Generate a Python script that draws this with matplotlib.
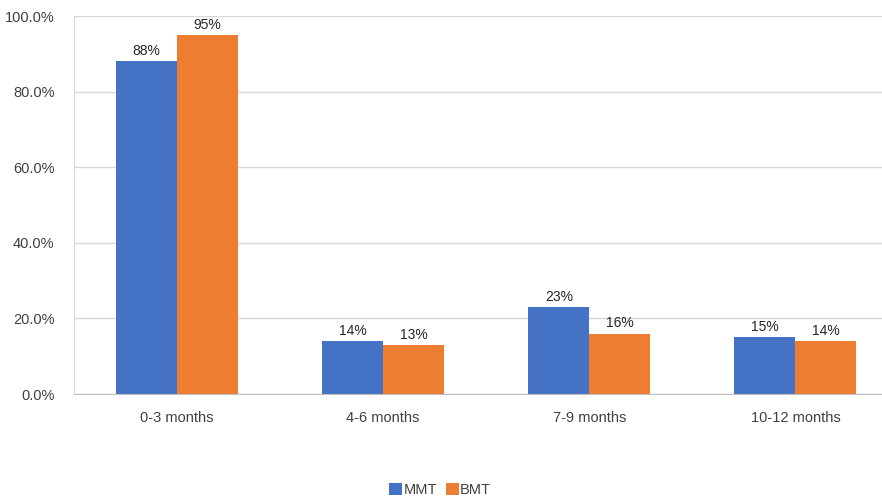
import matplotlib.pyplot as plt
import numpy as np
from matplotlib.ticker import PercentFormatter

categories = ["0-3 months", "4-6 months", "7-9 months", "10-12 months"]
mmt = [88, 14, 23, 15]
bmt = [95, 13, 16, 14]
series_names = ["MMT", "BMT"]

plt.rcParams['font.family'] = ['Liberation Sans', 'DejaVu Sans']

fig = plt.figure(figsize=(8.82, 5), dpi=100)
ax = fig.add_axes([74 / 882, 106 / 500, 1 - 74 / 882, 378 / 500])

x = np.arange(len(categories))
w = 0.296
b1 = ax.bar(x - w / 2, mmt, w, color="#4472C4", label=series_names[0])
b2 = ax.bar(x + w / 2, bmt, w, color="#ED7D31", label=series_names[1])

for bars, vals in ((b1, mmt), (b2, bmt)):
    for r, v in zip(bars, vals):
        ax.text(r.get_x() + r.get_width() / 2, v + 0.8, f"{v}%",
                ha="center", va="bottom", fontsize=10, color="#262626")

ax.set_ylim(0, 100)
ax.set_xlim(-0.5, 3.42)
ax.set_yticks(np.arange(0, 101, 20))
ax.yaxis.set_major_formatter(PercentFormatter(decimals=1))
ax.set_xticks(x)
ax.set_xticklabels(categories)
ax.tick_params(axis="both", length=0, labelsize=10.5, colors="#404040")
ax.tick_params(axis="x", pad=12)
ax.tick_params(axis="y", pad=14)
ax.grid(axis="y", color="#D9D9D9", linewidth=1)
ax.set_axisbelow(True)
for s in ("top", "right"):
    ax.spines[s].set_visible(False)
ax.spines["left"].set_color("#D9D9D9")
ax.spines["bottom"].set_color("#BFBFBF")

fig.legend(loc="center", bbox_to_anchor=(440 / 882, 1 - 490 / 500), ncol=2,
           frameon=False, fontsize=10.5, handlelength=0.9, handleheight=0.9,
           handletextpad=0.1, columnspacing=0.6, labelcolor="#404040")

fig.savefig("out.png", dpi=100)
